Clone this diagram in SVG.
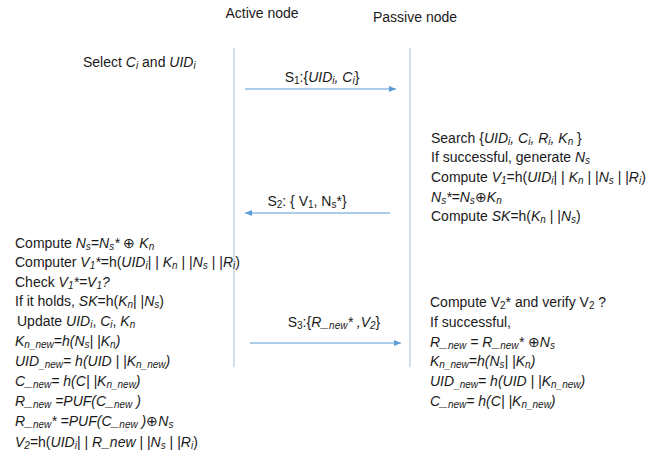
<svg xmlns="http://www.w3.org/2000/svg" width="654" height="458" viewBox="0 0 654 458">
<style>
text{font-family:"Liberation Sans",Arial,sans-serif;font-size:14px;fill:#1a1a1a}
.i{font-style:italic}
.b{font-size:10px;baseline-shift:-2px}
.life{stroke:#b4cbe9;stroke-width:1.2;fill:none}
.msg{stroke:#5b9bd5;stroke-width:1.2;fill:none}
</style>
<defs>
<marker id="ah" markerWidth="8" markerHeight="8" refX="7" refY="4" orient="auto" markerUnits="userSpaceOnUse">
<path d="M0,1 L7,4 L0,7 z" fill="#5b9bd5"/>
</marker>
</defs>
<rect width="654" height="458" fill="#fff"/>
<g id="active-node">
<text x="262" y="18" text-anchor="middle">Active node</text>
<line class="life" x1="234" y1="48" x2="234" y2="367"/>
</g>
<g id="passive-node">
<text x="415" y="22" text-anchor="middle">Passive node</text>
<line class="life" x1="410" y1="48" x2="410" y2="367"/>
</g>
<g id="active-step1">
<text x="83" y="67">Select <tspan class="i">C</tspan><tspan class="i b">i</tspan> and <tspan class="i">UID</tspan><tspan class="i b">i</tspan></text>
</g>
<g id="passive-step1">
<text x="431" y="143">Search {<tspan class="i">UID</tspan><tspan class="i b">i</tspan><tspan class="i">, C</tspan><tspan class="i b">i</tspan><tspan class="i">, R</tspan><tspan class="i b">i</tspan><tspan class="i">, K</tspan><tspan class="i b">n</tspan> }</text>
<text x="431" y="162">If successful, generate <tspan class="i">N</tspan><tspan class="i b">s</tspan></text>
<text x="431" y="182">Compute <tspan class="i">V</tspan><tspan class="i b">1</tspan>=h(<tspan class="i">UID</tspan><tspan class="i b">i</tspan>| | <tspan class="i">K</tspan><tspan class="i b">n</tspan> | |<tspan class="i">N</tspan><tspan class="i b">s</tspan> | |<tspan class="i">R</tspan><tspan class="i b">i</tspan>)</text>
<text x="431" y="202"><tspan class="i">N</tspan><tspan class="i b">s</tspan><tspan class="i">*=N</tspan><tspan class="i b">s</tspan>⊕<tspan class="i">K</tspan><tspan class="i b">n</tspan></text>
<text x="431" y="221">Compute <tspan class="i">SK</tspan>=h(<tspan class="i">K</tspan><tspan class="i b">n</tspan> | |<tspan class="i">N</tspan><tspan class="i b">s</tspan>)</text>
</g>
<g id="active-step2">
<text x="15" y="248">Compute <tspan class="i">N</tspan><tspan class="i b">s</tspan><tspan class="i">=N</tspan><tspan class="i b">s</tspan><tspan class="i">*</tspan> ⊕ <tspan class="i">K</tspan><tspan class="i b">n</tspan></text>
<text x="15" y="267">Computer <tspan class="i">V</tspan><tspan class="i b">1</tspan><tspan class="i">*</tspan>=h(<tspan class="i">UID</tspan><tspan class="i b">i</tspan>| | <tspan class="i">K</tspan><tspan class="i b">n</tspan> | |<tspan class="i">N</tspan><tspan class="i b">s</tspan> | |<tspan class="i">R</tspan><tspan class="i b">i</tspan>)</text>
<text x="15" y="287">Check <tspan class="i">V</tspan><tspan class="i b">1</tspan><tspan class="i">*=V</tspan><tspan class="i b">1</tspan><tspan class="i">?</tspan></text>
<text x="15" y="306">If it holds, <tspan class="i">SK</tspan>=h(<tspan class="i">K</tspan><tspan class="i b">n</tspan>| |<tspan class="i">N</tspan><tspan class="i b">s</tspan>)</text>
<text x="17" y="326">Update <tspan class="i">UID</tspan><tspan class="i b">i</tspan>, <tspan class="i">C</tspan><tspan class="i b">i</tspan>, <tspan class="i">K</tspan><tspan class="i b">n</tspan></text>
<text x="15" y="346" class="i">K<tspan class="b">n_new</tspan>=h(N<tspan class="b">s</tspan>| |K<tspan class="b">n</tspan>)</text>
<text x="15" y="366" class="i">UID<tspan class="b">_new</tspan>= h(UID | |K<tspan class="b">n_new</tspan>)</text>
<text x="15" y="386" class="i">C_<tspan class="b">new</tspan>= h(C| |K<tspan class="b">n_new</tspan>)</text>
<text x="15" y="406" class="i">R_<tspan class="b">new</tspan> =PUF(C_<tspan class="b">new</tspan> )</text>
<text x="15" y="426"><tspan class="i">R_</tspan><tspan class="i b">new</tspan><tspan class="i">* =PUF(C_</tspan><tspan class="i b">new</tspan><tspan class="i"> )</tspan>⊕<tspan class="i">N</tspan><tspan class="i b">s</tspan></text>
<text x="15" y="447"><tspan class="i">V</tspan><tspan class="i b">2</tspan>=h(<tspan class="i">UID</tspan><tspan class="i b">i</tspan>| | <tspan class="i">R_new</tspan> | |<tspan class="i">N</tspan><tspan class="i b">s</tspan> | |<tspan class="i">R</tspan><tspan class="i b">i</tspan>)</text>
</g>
<g id="passive-step2">
<text x="430" y="307">Compute V<tspan class="b">2</tspan>* and verify V<tspan class="b">2</tspan> ?</text>
<text x="430" y="327">If successful,</text>
<text x="430" y="347"><tspan class="i">R_</tspan><tspan class="i b">new</tspan><tspan class="i"> = R_</tspan><tspan class="i b">new</tspan><tspan class="i">*</tspan> ⊕<tspan class="i">N</tspan><tspan class="i b">s</tspan></text>
<text x="430" y="366" class="i">K<tspan class="b">n_new</tspan>=h(N<tspan class="b">s</tspan>| |K<tspan class="b">n</tspan>)</text>
<text x="430" y="386" class="i">UID<tspan class="b">_new</tspan>= h(UID | |K<tspan class="b">n_new</tspan>)</text>
<text x="430" y="406" class="i">C_<tspan class="b">new</tspan>= h(C| |K<tspan class="b">n_new</tspan>)</text>
</g>
<g id="connectors">
<line class="msg" x1="245" y1="89" x2="396" y2="89" marker-end="url(#ah)"/>
<text x="322" y="82" text-anchor="middle">S<tspan class="b">1</tspan>:{<tspan class="i">UID</tspan><tspan class="i b">i</tspan><tspan class="i">, C</tspan><tspan class="i b">i</tspan>}</text>
<line class="msg" x1="390" y1="213" x2="245" y2="213" marker-end="url(#ah)"/>
<text x="307" y="206" text-anchor="middle">S<tspan class="b">2</tspan>: { V<tspan class="b">1</tspan>, N<tspan class="b">s</tspan>*}</text>
<line class="msg" x1="250" y1="343" x2="401" y2="343" marker-end="url(#ah)"/>
<text x="334" y="327" text-anchor="middle">S<tspan class="b">3</tspan>:{<tspan class="i">R_</tspan><tspan class="i b">new</tspan><tspan class="i">* ,V</tspan><tspan class="i b">2</tspan>}</text>
</g>
</svg>
